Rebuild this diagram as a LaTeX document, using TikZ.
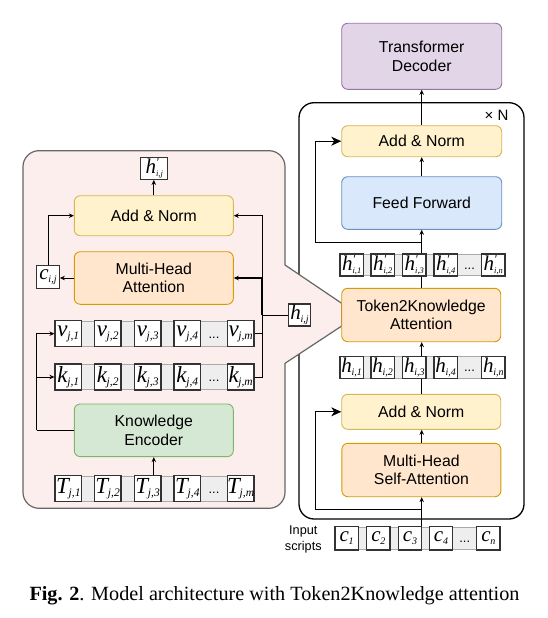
\documentclass[tikz,border=0pt]{standalone}
\usepackage{fontspec}
\setmainfont{Liberation Serif}
\newfontfamily\arialf{Liberation Sans}
\usetikzlibrary{arrows.meta}
\definecolor{ylwF}{HTML}{FFF2CC}\definecolor{ylwD}{HTML}{D6B656}
\definecolor{orgF}{HTML}{FFE6CC}\definecolor{orgD}{HTML}{D79B00}
\definecolor{bluF}{HTML}{DAE8FC}\definecolor{bluD}{HTML}{6C8EBF}
\definecolor{grnF}{HTML}{D5E8D4}\definecolor{grnD}{HTML}{82B366}
\definecolor{purF}{HTML}{E1D5E7}\definecolor{purD}{HTML}{9673A6}
\definecolor{pnlF}{HTML}{FDEEEE}\definecolor{pnlD}{HTML}{666666}
\definecolor{tokD}{HTML}{333333}
\definecolor{stripF}{HTML}{EEEEEE}\definecolor{stripD}{HTML}{AAAAAA}
\newcommand{\tkL}[2]{{\fontsize{23}{23}\selectfont\itshape #1}\kern-0.3pt\raisebox{-3.5pt}{\fontsize{11.5}{11.5}\selectfont\itshape #2}}
\newcommand{\tkR}[2]{{\fontsize{21}{21}\selectfont\itshape #1}\kern-0.3pt\raisebox{-3pt}{\fontsize{10}{10}\selectfont\itshape #2}}
\newcommand{\tkP}[2]{{\fontsize{21}{21}\selectfont\itshape #1}\rlap{\raisebox{7pt}{\fontsize{12}{12}\selectfont\itshape ′}}\raisebox{-3pt}{\fontsize{8.5}{8.5}\selectfont\itshape #2}}
\begin{document}
\begin{tikzpicture}[x=1pt,y=-1pt,
  box/.style={draw, rounded corners=6pt, line width=0.9pt, align=center, inner sep=0pt,
    minimum width=160pt, font=\arialf\fontsize{15.8}{18.3}\selectfont},
  tokL/.style={draw=tokD, fill=white, line width=1.2pt, minimum width=26.7pt, minimum height=26pt, inner sep=0pt},
  tokR/.style={draw=tokD, fill=white, line width=1.2pt, minimum width=23.3pt, minimum height=22pt, inner sep=0pt},
  strip/.style={fill=stripF, draw=stripD, line width=0.6pt},
  dotsL/.style={font=\arialf\fontsize{13}{13}\selectfont, inner sep=0pt},
  arr/.style={line width=0.9pt, -{Stealth[length=5pt,width=4.5pt]}},
  bigarr/.style={line width=0.9pt, -{Stealth[length=10pt,width=9pt,inset=3pt]}},
  ln/.style={line width=0.9pt}]
\useasboundingbox (0,0) rectangle (547,618);
\fill[white] (0,0) rectangle (547,618);

% N box
\node[draw, rounded corners=15pt, line width=1.3pt, minimum width=225pt, minimum height=416.3pt, inner sep=0pt] (nbox) at (411.5,310.85) {};
\node[font=\arialf\fontsize{15}{15}\selectfont, inner sep=0pt] (xn) at (496.5,115.5) {× N};

% left panel (callout)
\draw[fill=pnlF, draw=pnlD, line width=1.2pt, line join=round]
  (23,330) -- (23,166.7) arc[start angle=180,end angle=270,radius=16]
  -- (269,150.7) arc[start angle=270,end angle=360,radius=16]
  -- (285,265) -- (341.7,303.3) -- (341.7,326) -- (285,363.3)
  -- (285,492.3) arc[start angle=0,end angle=90,radius=16]
  -- (39,508.3) arc[start angle=90,end angle=180,radius=16] -- cycle;

% right column boxes
\node[box, fill=purF, draw=purD, minimum height=66pt] (td) at (421.7,56.3) {Transformer\\Decoder};
\node[box, fill=ylwF, draw=ylwD, minimum height=31pt] (an1) at (421.7,141.2) {Add \& Norm};
\node[box, fill=bluF, draw=bluD, minimum height=52.6pt] (ff) at (421.7,203) {Feed Forward};
\node[box, fill=orgF, draw=orgD, minimum height=53.4pt, minimum width=159pt] (t2k) at (421.2,315) {Token2Knowledge\\Attention};
\node[box, fill=ylwF, draw=ylwD, minimum height=35pt, minimum width=159pt] (an2) at (421.2,411.8) {Add \& Norm};
\node[box, fill=orgF, draw=orgD, minimum height=53.4pt, minimum width=159pt] (mhsa) at (421.4,470) {Multi-Head\\Self-Attention};

% right token rows
\draw[strip] (340,254.5) rectangle (505,275.5);
\foreach \n/\x/\s in {1/351.65/{i,1},2/382.65/{i,2},3/414.35/{i,3},4/445.65/{i,4},n/493.3/{i,n}}
  {\node[tokR] (hp\n) at (\x,265) {\tkP{h}{\s}};}
\node[dotsL] (hpd) at (469.5,269) {...};

\draw[strip] (340,356.5) rectangle (505,377.8);
\foreach \n/\x/\s in {1/351.65/{i,1},2/382.65/{i,2},3/414.35/{i,3},4/445.65/{i,4},n/493.3/{i,n}}
  {\node[tokR] (h\n) at (\x,367.2) {\tkR{h}{\s}};}
\node[dotsL] (hd) at (469.5,371) {...};

\draw[strip] (335,527.2) rectangle (500,549.5);
\foreach \n/\x/\s in {1/346.65/1,2/378.35/2,3/410/3,4/441/4,n/488.35/n}
  {\node[tokR, minimum height=23.3pt] (c\n) at (\x,538.3) {\tkR{c}{\s}};}
\node[dotsL] (cd) at (464.7,542) {...};
\node[font=\arialf\fontsize{12.7}{15.5}\selectfont, align=center, inner sep=0pt] (inp) at (303.3,539.5) {Input\\scripts};

% right column connectors
\draw[arr] (an1.north) -- (an1.north |- td.south);
\draw[arr] (ff.north) -- (ff.north |- an1.south);
\draw[arr] (ff.south |- hp3.north) -- (ff.south);
\draw[ln] (t2k.north -| ff.south) -- (ff.south |- hp3.south);
\draw[arr] (ff.south |- h3.north) -- (ff.south |- t2k.south);
\draw[ln] (ff.south |- an2.north) -- (ff.south |- h3.south);
\draw[arr] (ff.south |- mhsa.north) -- (ff.south |- an2.south);
\draw[arr] (ff.south |- c3.north) -- (ff.south |- mhsa.south);
\coordinate (res1) at (421.7,242.7); \coordinate (res1b) at (315.7,242.7);
\draw[bigarr] (res1) -- (res1b) |- (an1.west);
\coordinate (res2) at (421.7,509); \coordinate (res2b) at (315,509);
\draw[bigarr] (res2) -- (res2b) |- (an2.west);

% left panel boxes
\node[box, fill=ylwF, draw=ylwD, minimum height=40pt, minimum width=159pt] (lan) at (153.8,215.7) {Add \& Norm};
\node[box, fill=orgF, draw=orgD, minimum height=52.6pt, minimum width=159pt] (mha) at (153.8,278) {Multi-Head\\Attention};
\node[box, fill=grnF, draw=grnD, minimum height=52.7pt, minimum width=159pt] (ke) at (153.8,430.3) {Knowledge\\Encoder};

\node[tokR, minimum width=27pt] (hpij) at (154.2,168.3) {\tkP{h}{i,j}};
\node[tokR, minimum width=22.6pt, minimum height=22.6pt] (cij) at (48,277) {\tkR{c}{i,j}};
\node[tokR, minimum width=22.4pt] (hij) at (299.5,315) {\tkR{h}{i,j}};

% left token rows
\draw[strip] (55,321.2) rectangle (254,346.2);
\foreach \n/\x/\s in {1/68.35/{j,1},2/107.65/{j,2},3/147.65/{j,3},4/187.35/{j,4},m/240.65/{j,m}}
  {\node[tokL] (v\n) at (\x,333.7) {\tkL{v}{\s}};}
\node[dotsL] (vd) at (214,338) {...};

\draw[strip] (55,364.5) rectangle (254,389.5);
\foreach \n/\x/\s in {1/68.35/{j,1},2/107.65/{j,2},3/147.65/{j,3},4/187.35/{j,4},m/240.65/{j,m}}
  {\node[tokL] (k\n) at (\x,377) {\tkL{k}{\s}};}
\node[dotsL] (kd) at (214,381) {...};

\draw[strip] (55,476.2) rectangle (254,501.2);
\foreach \n/\x/\s in {1/68.35/{j,1},2/107.65/{j,2},3/147.65/{j,3},4/187.35/{j,4},m/240.65/{j,m}}
  {\node[tokL] (T\n) at (\x,488.7) {\tkL{T}{\s}};}
\node[dotsL] (Td) at (214,492.5) {...};

% left connectors
\draw[arr] (lan.north) -- (lan.north |- hpij.south);
\draw[arr] (mha.west) -- (mha.west -| cij.east);
\draw[arr] (cij.north) |- (lan.west);
\coordinate (kebend) at (36.7,430.3);
\draw[ln] (ke.west) -- (kebend);
\draw[arr] (kebend) |- (v1.west);
\draw[arr] (kebend) |- (k1.west);
\draw[arr] (ke.south |- T3.north) -- (ke.south);
\coordinate (busH) at (262,315);
\draw[ln] (hij.west) -- (busH);
\draw[arr] (busH) |- (lan.east);
\draw[arr, line width=1.5pt] (busH) |- (mha.east);
\draw[ln] (vm.east) -| (busH);
\draw[ln] (km.east) -| (busH);

% caption
\node[anchor=base, inner sep=0pt, font=\fontsize{20.2}{24}\selectfont] (cap) at (274.5,600) {\textbf{Fig. 2}. Model architecture with Token2Knowledge attention};
\end{tikzpicture}
\end{document}
